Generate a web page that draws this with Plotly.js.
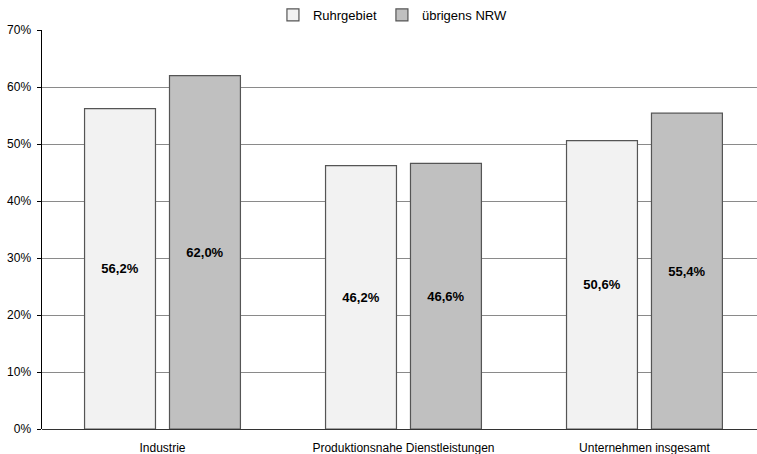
<!DOCTYPE html>
<html>
<head>
<meta charset="utf-8">
<script src="https://cdn.plot.ly/plotly-3.0.1.min.js"></script>
<style>html,body{margin:0;padding:0;background:#fff;}#chart{width:757px;height:454px;}</style>
</head>
<body>
<div id="chart"></div>
<script>
// Anteil je Branchengruppe, in Prozent
const categories = ["Industrie", "Produktionsnahe Dienstleistungen", "Unternehmen insgesamt"];
const ruhrgebiet = [56.2, 46.2, 50.6];
const uebrigesNRW = [62.0, 46.6, 55.4];
const seriesNames = ["Ruhrgebiet", "übrigens NRW"];
const yTickVals = [0, 10, 20, 30, 40, 50, 60, 70];
const yTickText = ["0%", "10%", "20%", "30%", "40%", "50%", "60%", "70%"];

const fmt = v => v.toFixed(1).replace(".", ",") + "%";

function barTrace(name, values, fill) {
  return {
    type: "bar",
    name: name,
    x: categories,
    y: values,
    text: values.map(fmt),
    textposition: "inside",
    insidetextanchor: "middle",
    textangle: 0,
    textfont: {family: "Liberation Sans, Arial, sans-serif", size: 13, color: "#000", weight: "bold"},
    marker: {color: fill, line: {color: "#555", width: 1.2}},
    hoverinfo: "skip"
  };
}

const data = [
  barTrace(seriesNames[0], ruhrgebiet, "#f2f2f2"),
  barTrace(seriesNames[1], uebrigesNRW, "#c0c0c0")
];

const layout = {
  width: 757, height: 454,
  margin: {l: 42, r: 0, t: 29, b: 25, pad: 0},
  paper_bgcolor: "#fff", plot_bgcolor: "#fff",
  font: {family: "Liberation Sans, Arial, sans-serif", size: 12, color: "#000"},
  barmode: "group",
  bargap: 0.295,
  bargroupgap: 0.165,
  showlegend: true,
  legend: {
    orientation: "h", x: 0.323, xanchor: "left", y: 1, yanchor: "bottom",
    font: {size: 13, color: "#000"}, itemwidth: 30, traceorder: "normal",
    bgcolor: "rgba(0,0,0,0)"
  },
  xaxis: {
    type: "category",
    range: [-0.5, 2.467],
    showgrid: false, zeroline: false,
    showline: false,
    ticks: "outside", ticklen: 8, tickcolor: "rgba(0,0,0,0)",
    tickfont: {size: 12, color: "#000"},
    fixedrange: true
  },
  yaxis: {
    range: [0, 70],
    tickvals: yTickVals, ticktext: yTickText,
    showgrid: true, gridcolor: "#8a8a8a", gridwidth: 1,
    zeroline: true, zerolinecolor: "#333", zerolinewidth: 1,
    showline: true, linecolor: "#000", linewidth: 1.5,
    ticks: "outside", ticklen: 4, tickcolor: "#000",
    ticklabelstandoff: 3,
    tickfont: {size: 12, color: "#000"},
    fixedrange: true
  }
};

Plotly.newPlot("chart", data, layout, {displayModeBar: false, staticPlot: true});
</script>
</body>
</html>
